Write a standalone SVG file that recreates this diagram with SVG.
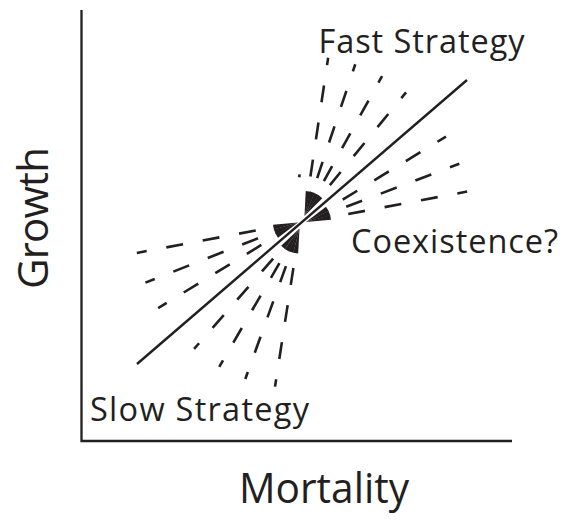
<svg xmlns="http://www.w3.org/2000/svg" width="570" height="521" viewBox="0 0 570 521">
  <style>
    .ax { fill: none; stroke: #231f20; stroke-width: 2.3; }
    .main { fill: none; stroke: #231f20; stroke-width: 2.4; }
    .dash { fill: none; stroke: #231f20; stroke-width: 2.6; }
    .head { fill: #231f20; stroke: none; }
    .lbl { font-family: "Open Sans", "Noto Sans", "Liberation Sans", sans-serif; fill: #231f20; }
    .s { font-size: 32.5px; }
    .b { font-size: 42px; }
  </style>
  <defs>
    <g id="ray-a">
      <polygon class="head" points="0,0 25,-2.5 25,2.5"/>
      <line class="dash" x1="40" y1="0" x2="160" y2="0" stroke-dasharray="17 20.5"/>
    </g>
    <g id="ray-b">
      <polygon class="head" points="0,0 25,-2.5 25,2.5"/>
      <line class="dash" x1="43" y1="0" x2="164" y2="0" stroke-dasharray="17 20"/>
    </g>
  </defs>

  <g id="axes">
    <polyline class="ax" points="81.5,10 81.5,441 512,441"/>
  </g>

  <g id="connectors">
    <line id="trade-off-line" class="main" x1="137" y1="364" x2="467" y2="80"/>
    <g id="fan-upper" transform="translate(304.5,216)">
      <use href="#ray-a" transform="rotate(-50.6)"/>
      <use href="#ray-a" transform="rotate(-61)"/>
      <use href="#ray-a" transform="rotate(-71.5)"/>
      <use href="#ray-a" transform="rotate(-81.5)"/>
    </g>
    <line class="dash" x1="299.6" y1="174.4" x2="299.2" y2="177.2"/>
    <g id="fan-right" transform="translate(306,222)">
      <use href="#ray-b" transform="rotate(-10.7)"/>
      <use href="#ray-b" transform="rotate(-20.8)"/>
      <use href="#ray-b" transform="rotate(-31.4)"/>
    </g>
    <g id="fan-left" transform="translate(298,222.5)">
      <use href="#ray-b" transform="rotate(-190.7)"/>
      <use href="#ray-b" transform="rotate(-201.5)"/>
      <use href="#ray-b" transform="rotate(-211.5)"/>
    </g>
    <g id="fan-lower" transform="translate(299.5,228.5)">
      <use href="#ray-a" transform="rotate(-228.8)"/>
      <use href="#ray-a" transform="rotate(-239.9)"/>
      <use href="#ray-a" transform="rotate(-250.2)"/>
      <use href="#ray-a" transform="rotate(-261.2)"/>
    </g>
  </g>

  <g id="label-fast"><text class="lbl s" x="318.5" y="53.3" textLength="206" lengthAdjust="spacing">Fast Strategy</text></g>
  <g id="label-coexistence"><text class="lbl s" x="351" y="253.3" textLength="207" lengthAdjust="spacing">Coexistence?</text></g>
  <g id="label-slow"><text class="lbl s" x="90" y="420.7" textLength="219" lengthAdjust="spacing">Slow Strategy</text></g>
  <g id="label-mortality"><text class="lbl b" x="239" y="503.3" textLength="170" lengthAdjust="spacingAndGlyphs">Mortality</text></g>
  <g id="label-growth"><text class="lbl b" transform="translate(48.3,289) rotate(-90)" x="0" y="0" textLength="142" lengthAdjust="spacing">Growth</text></g>
</svg>
